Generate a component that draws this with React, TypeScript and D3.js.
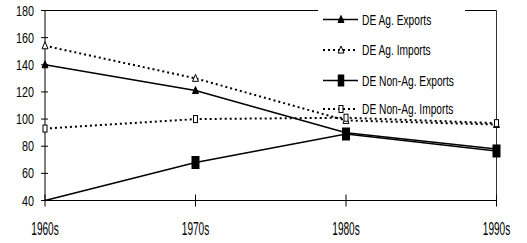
import React from "react";
import * as d3 from "d3";

const categories = ["1960s", "1970s", "1980s", "1990s"];
const agExports = [140, 121, 90, 78];
const agImports = [154, 130, 99, 96];
const nonAgExports = [40, 68, 89, 76.5];
const nonAgImports = [93, 100, 101, 97];
const yTicks = [40, 60, 80, 100, 120, 140, 160, 180];
const legendLabels = ["DE Ag. Exports", "DE Ag. Imports", "DE Non-Ag. Exports", "DE Non-Ag. Imports"];

const W = 527, H = 243;
const left = 45, right = 496.5, top = 10.5, bottom = 200.5;

type Marker = "triFill" | "triOpen" | "rectFill" | "rectOpen";

function MarkerShape({ kind, x, y, legend }: { kind: Marker; x: number; y: number; legend?: boolean }) {
  if (kind === "triFill" || kind === "triOpen") {
    const w = 3, h = 4;
    const p = `M${x},${y - h} L${x + w},${y + h - 1} L${x - w},${y + h - 1} Z`;
    return <path d={p} fill={kind === "triFill" ? "#000" : "#fff"} stroke="#000" strokeWidth={1} />;
  }
  if (kind === "rectFill") {
    const w = legend ? 6.5 : 8, h = legend ? 12 : 13;
    return <rect x={x - w / 2} y={y - h / 2} width={w} height={h} fill="#000" />;
  }
  return <rect x={x - 2} y={y - 3.5} width={4} height={7} fill="#fff" stroke="#000" strokeWidth={1} />;
}

export default function App() {
  const x = d3.scalePoint<string>().domain(categories).range([left, right]);
  const y = d3.scaleLinear().domain([40, 180]).range([bottom, top]);

  const series = [
    { name: legendLabels[0], data: agExports, dash: undefined as string | undefined, sw: 1.5, marker: "triFill" as Marker },
    { name: legendLabels[1], data: agImports, dash: "2 3", sw: 2, marker: "triOpen" as Marker },
    { name: legendLabels[2], data: nonAgExports, dash: undefined, sw: 1.5, marker: "rectFill" as Marker },
    { name: legendLabels[3], data: nonAgImports, dash: "2 3", sw: 2, marker: "rectOpen" as Marker },
  ];

  const line = d3
    .line<number>()
    .x((_, i) => x(categories[i]) as number)
    .y((d) => y(d));

  const font = "'Liberation Sans', Arial, sans-serif";
  const legX = 318, legW = 147;
  const legRows = [19.5, 50, 80.5, 109];
  const yMin = y.domain()[0];

  return (
    <svg width={W} height={H} style={{ position: "absolute", left: 0, top: 0, background: "#fff" }}>
      <rect x={0} y={0} width={W} height={H} fill="#fff" />
      {/* frame */}
      <line x1={left} x2={right} y1={top} y2={top} stroke="#000" strokeWidth={1} />
      <line x1={right} x2={right} y1={top} y2={bottom} stroke="#333" strokeWidth={1} />
      <line x1={left} x2={left} y1={top} y2={bottom} stroke="#000" strokeWidth={1} />
      <line x1={left} x2={right} y1={bottom} y2={bottom} stroke="#000" strokeWidth={1} />
      {yTicks.map((t) => (
        <g key={t}>
          <line x1={left - 4} x2={left + 3} y1={y(t)} y2={y(t)} stroke="#000" strokeWidth={1} />
          <text
            transform={`translate(34,${y(t) + 5}) scale(0.77,1)`}
            textAnchor="end"
            fontFamily={font}
            fontSize={14}
            fill="#000"
          >
            {t}
          </text>
        </g>
      ))}
      {categories.map((c) => (
        <g key={c}>
          <line x1={x(c)} x2={x(c)} y1={bottom - 6} y2={bottom + 6} stroke="#000" strokeWidth={1} />
          <text
            transform={`translate(${x(c)},235) scale(0.56,1)`}
            textAnchor="middle"
            fontFamily={font}
            fontSize={18}
            fill="#000"
          >
            {c}
          </text>
        </g>
      ))}
      {series.map((s) => (
        <g key={s.name}>
          <path d={line(s.data) || ""} fill="none" stroke="#000" strokeWidth={s.sw} strokeDasharray={s.dash} />
          {s.data.map((v, i) =>
            v <= yMin ? null : (
              <MarkerShape key={i} kind={s.marker} x={x(categories[i]) as number} y={y(v)} />
            )
          )}
        </g>
      ))}
      {/* legend */}
      <rect x={legX} y={0} width={legW} height={98} fill="#fff" />
      {series.map((s, i) => (
        <g key={s.name}>
          <line x1={323} x2={358} y1={legRows[i]} y2={legRows[i]} stroke="#000" strokeWidth={s.sw} strokeDasharray={s.dash} />
          <MarkerShape kind={s.marker} x={341} y={legRows[i]} legend />
          <text
            transform={`translate(362,${legRows[i] + 5}) scale(0.73,1)`}
            fontFamily={font}
            fontSize={14}
            fill="#000"
          >
            {s.name}
          </text>
        </g>
      ))}
    </svg>
  );
}
